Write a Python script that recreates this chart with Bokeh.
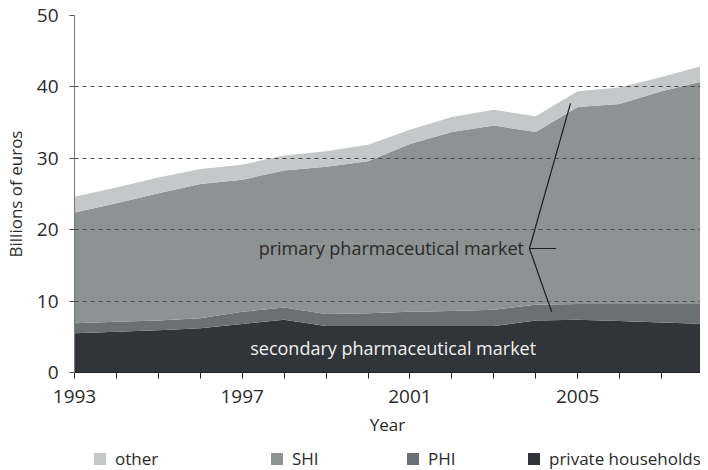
from bokeh.plotting import figure
from bokeh.layouts import column
from bokeh.models import (ColumnDataSource, FixedTicker, Legend, LegendItem, Label, Range1d)
from bokeh.embed import file_html
from bokeh.resources import INLINE

# ---- data (billions of euros) ----
years = list(range(1993, 2009))
private_households = [5.5, 5.7, 5.9, 6.2, 6.8, 7.4, 6.5, 6.5, 6.5, 6.5, 6.5, 7.3, 7.4, 7.2, 7.0, 6.8]
phi = [1.4, 1.4, 1.4, 1.4, 1.7, 1.7, 1.7, 1.8, 2.0, 2.1, 2.3, 2.2, 2.2, 2.4, 2.6, 2.8]
shi = [15.5, 16.6, 17.8, 18.8, 18.5, 19.2, 20.6, 21.3, 23.5, 25.1, 25.8, 24.2, 27.6, 28.0, 29.8, 31.2]
other = [2.2, 2.2, 2.2, 2.1, 2.1, 2.1, 2.2, 2.3, 2.0, 2.1, 2.2, 2.2, 2.2, 2.3, 2.0, 2.2]

series_names = ["private households", "PHI", "SHI", "other"]
series_colors = ["#313539", "#6b7173", "#8d9292", "#c5c8c8"]

x_ticks = list(range(1993, 2009))
x_labels = {1993: "1993", 1997: "1997", 2001: "2001", 2005: "2005"}
y_ticks = [0, 10, 20, 30, 40, 50]

# annotation pointer (data coords)
pointer_x = [2004.83, 2003.85, 2004.38]
pointer_y = [37.7, 17.37, 8.5]
pointer_h_x = [2003.85, 2004.48]
pointer_h_y = [17.37, 17.37]

FONT = "Open Sans"
TXT = "#2b2b2b"

src = ColumnDataSource(data={
    "year": years,
    "private households": private_households,
    "PHI": phi,
    "SHI": shi,
    "other": other,
})

p = figure(width=700, height=440, output_backend="svg", toolbar_location=None,
           x_range=Range1d(1993, 2007.93), y_range=Range1d(0, 50),
           min_border_left=64, min_border_right=0, min_border_top=15, min_border_bottom=68)
p.outline_line_color = None
p.background_fill_color = "white"

renderers = p.varea_stack(stackers=series_names, x="year", color=series_colors, source=src)

# grid
p.xgrid.visible = False
p.ygrid.ticker = FixedTicker(ticks=[10, 20, 30, 40, 50])
p.ygrid.grid_line_color = "#4a4a4a"
p.ygrid.grid_line_dash = "4 4"
p.ygrid.grid_line_width = 1
p.ygrid.level = "overlay"

# x axis
xa = p.xaxis[0]
xa.ticker = FixedTicker(ticks=x_ticks)
xa.major_label_overrides = {t: x_labels.get(t, "") for t in x_ticks}
xa.minor_tick_line_color = None
xa.major_tick_in = 0
xa.major_tick_out = 6
xa.axis_line_color = "#222222"
xa.major_tick_line_color = "#222222"
xa.major_label_text_font = FONT
xa.major_label_text_font_size = "19px"
xa.major_label_text_color = TXT
xa.major_label_standoff = 11
xa.axis_label = "Year"
xa.axis_label_text_font = FONT
xa.axis_label_text_font_size = "17px"
xa.axis_label_text_font_style = "normal"
xa.axis_label_text_color = TXT
xa.axis_label_standoff = 7

# y axis
ya = p.yaxis[0]
ya.ticker = FixedTicker(ticks=y_ticks)
ya.minor_tick_line_color = None
ya.major_tick_in = 0
ya.major_tick_out = 5
ya.axis_line_color = "#777777"
ya.major_tick_line_color = "#555555"
ya.major_label_text_font = FONT
ya.major_label_text_font_size = "19px"
ya.major_label_text_color = TXT
ya.major_label_standoff = 11
ya.axis_label = "Billions of euros"
ya.axis_label_text_font = FONT
ya.axis_label_text_font_size = "17px"
ya.axis_label_text_font_style = "normal"
ya.axis_label_text_color = TXT
ya.axis_label_standoff = 7

# annotations
p.line(pointer_x, pointer_y, line_color="#1e1e1e", line_width=1.2)
p.line(pointer_h_x, pointer_h_y, line_color="#1e1e1e", line_width=1.2)
p.add_layout(Label(x=2003.72, y=17.37, text="primary pharmaceutical market",
                   text_align="right", text_baseline="middle", text_font=FONT,
                   text_font_size="18px", text_color=TXT))
p.add_layout(Label(x=2000.6, y=3.4, text="secondary pharmaceutical market",
                   text_align="center", text_baseline="middle", text_font=FONT,
                   text_font_size="18px", text_color="#f0f0f0"))

# legend strip below the chart (frame aligned with the chart frame)
lf = figure(width=700, height=30, output_backend="svg", toolbar_location=None,
            x_range=Range1d(0, 1), y_range=Range1d(0, 1),
            x_axis_location=None, y_axis_location=None,
            min_border_left=64, min_border_right=0, min_border_top=0, min_border_bottom=0)
lf.outline_line_color = None
lf.xgrid.visible = False
lf.ygrid.visible = False

legend_x = [18, 195, 331, 452]
for name, col, lx in zip(series_names[::-1], series_colors[::-1], legend_x):
    dummy = lf.varea(x=[5, 6], y1=[5, 5], y2=[6, 6], fill_color=col)
    lg = Legend(items=[LegendItem(label=name, renderers=[dummy])],
                location=(lx, 0), orientation="horizontal",
                glyph_width=15, glyph_height=15, label_standoff=8,
                padding=0, margin=0, spacing=0,
                border_line_color=None, background_fill_alpha=0,
                label_text_font=FONT, label_text_font_size="17px",
                label_text_color=TXT, label_height=15)
    lf.add_layout(lg, "center")

layout = column(p, lf, spacing=0)
open("out.html", "w").write(file_html(layout, INLINE))
